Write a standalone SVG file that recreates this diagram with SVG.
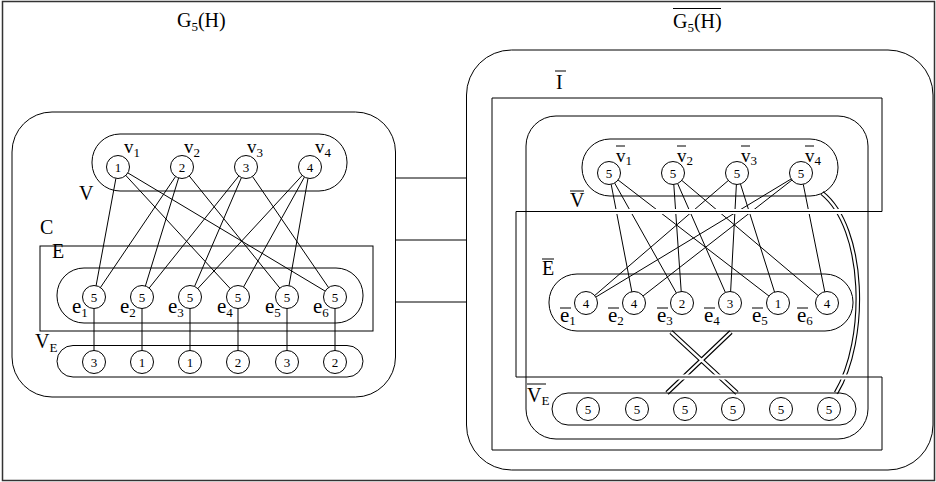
<svg xmlns="http://www.w3.org/2000/svg" width="936" height="482" viewBox="0 0 936 482">
<style>
  text { font-family: "Liberation Serif", "Times New Roman", serif; fill: #000; }
  .lbl { font-size: 20px; }
  .vl { font-size: 19px; }
  .el { font-size: 21px; }
  .sub { font-size: 13px; }
  .num { font-size: 13px; text-anchor: middle; }
  .box { fill: none; stroke: #000; stroke-width: 1; }
  .node circle { fill: #fff; stroke: #000; stroke-width: 1; }
  .edge line { stroke: #000; stroke-width: 1; }
  .dbl-out { fill: none; stroke: #000; stroke-width: 4.6; }
  .dbl-in { fill: none; stroke: #fff; stroke-width: 2.4; }
  .bar { stroke: #000; stroke-width: 1; }
  .halo { stroke: #fff; stroke-width: 5; }
</style>

<!-- page frame -->
<rect x="2.5" y="1.5" width="932" height="479" fill="#fff" stroke="#333" stroke-width="1.5"/>

<!-- titles -->
<g id="title-left">
  <text class="lbl" x="177" y="26.5">G<tspan class="sub" y="30.5">5</tspan><tspan y="26.5">(H)</tspan></text>
</g>
<g id="title-right">
  <text class="lbl" x="673" y="27.5">G<tspan class="sub" y="31.5">5</tspan><tspan y="27.5">(H)</tspan></text>
  <line class="bar" x1="673" y1="8.5" x2="721" y2="8.5"/>
</g>

<!-- connectors -->
<g id="connectors">
  <g class="edge">
    <!-- links between the two graphs -->
    <line x1="395.5" y1="178" x2="466.5" y2="178"/>
    <line x1="395.5" y1="240" x2="466.5" y2="240"/>
    <line x1="395.5" y1="302" x2="466.5" y2="302"/>

    <!-- left: V to E -->
    <line x1="118" y1="167" x2="94" y2="297"/>
    <line x1="118" y1="167" x2="238" y2="297"/>
    <line x1="118" y1="167" x2="335" y2="297"/>
    <line x1="182" y1="167" x2="94" y2="297"/>
    <line x1="182" y1="167" x2="142" y2="297"/>
    <line x1="182" y1="167" x2="287" y2="297"/>
    <line x1="246" y1="167" x2="142" y2="297"/>
    <line x1="246" y1="167" x2="190" y2="297"/>
    <line x1="246" y1="167" x2="335" y2="297"/>
    <line x1="310" y1="167" x2="190" y2="297"/>
    <line x1="310" y1="167" x2="238" y2="297"/>
    <line x1="310" y1="167" x2="287" y2="297"/>
    <!-- left: E to V_E -->
    <line x1="94" y1="297" x2="94" y2="362"/>
    <line x1="142" y1="297" x2="142" y2="362"/>
    <line x1="190" y1="297" x2="190" y2="362"/>
    <line x1="238" y1="297" x2="238" y2="362"/>
    <line x1="287" y1="297" x2="287" y2="362"/>
    <line x1="335" y1="297" x2="335" y2="362"/>

    <!-- right: V-bar to E-bar -->
    <line x1="609" y1="173" x2="634" y2="303"/>
    <line x1="609" y1="173" x2="682" y2="303"/>
    <line x1="609" y1="173" x2="778" y2="303"/>
    <line x1="673" y1="173" x2="682" y2="303"/>
    <line x1="673" y1="173" x2="730" y2="303"/>
    <line x1="673" y1="173" x2="827" y2="303"/>
    <line x1="737" y1="173" x2="586" y2="303"/>
    <line x1="737" y1="173" x2="730" y2="303"/>
    <line x1="737" y1="173" x2="778" y2="303"/>
    <line x1="801" y1="173" x2="586" y2="303"/>
    <line x1="801" y1="173" x2="634" y2="303"/>
    <line x1="801" y1="173" x2="827" y2="303"/>
  </g>

  <!-- double lines (group to group) -->
  <path class="dbl-out" d="M671 332 L737 393 M731 332 L667 393 M822 193 C866 228 868 340 836 393"/>
  <path class="dbl-in" d="M671 332 L737 393 M731 332 L667 393 M822 193 C866 228 868 340 836 393"/>

  <!-- breaks where lines pass under the I-bar outline -->
  <line class="halo" x1="516" y1="211.5" x2="882" y2="211.5"/>
  <line class="halo" x1="516" y1="377" x2="882" y2="377"/>
</g>

<!-- left graph containers -->
<g id="G5H">
  <rect class="box" x="12" y="112" width="383.5" height="285" rx="40"/>
</g>
<g id="C">
  <rect class="box" x="40" y="246" width="333" height="85"/>
  <text class="lbl" x="40" y="234">C</text>
</g>
<g id="V">
  <rect class="box" x="92" y="134" width="255" height="57" rx="28"/>
  <text class="lbl" x="79" y="200">V</text>
</g>
<g id="E">
  <rect class="box" x="57" y="268" width="306" height="55" rx="27"/>
  <text class="lbl" x="52" y="258">E</text>
</g>
<g id="VE">
  <rect class="box" x="57" y="345.5" width="306" height="31.5" rx="16"/>
  <text class="lbl" x="35" y="348">V<tspan class="sub" y="352">E</tspan></text>
</g>

<!-- right graph containers -->
<g id="G5H-bar">
  <rect class="box" x="466.5" y="50" width="466.5" height="420" rx="45"/>
</g>
<g id="I-bar">
  <path class="box" d="M492 98 H882 V211.5 H516 V377 H882 V450 H492 Z"/>
  <text class="lbl" x="556" y="89">I</text>
  <line class="bar" x1="555" y1="71" x2="566" y2="71"/>
</g>
<g id="C-bar">
  <rect class="box" x="526" y="116" width="342" height="323" rx="30"/>
</g>
<g id="V-bar">
  <rect class="box" x="582" y="139" width="256" height="57" rx="28"/>
  <text class="lbl" x="570" y="207">V</text>
  <line class="bar" x1="570" y1="191" x2="584" y2="191"/>
</g>
<g id="E-bar">
  <rect class="box" x="549" y="274" width="304" height="57" rx="28"/>
  <text class="lbl" x="542" y="275">E</text>
  <line class="bar" x1="542" y1="259" x2="554" y2="259"/>
</g>
<g id="VE-bar">
  <rect class="box" x="552" y="393" width="304" height="32" rx="16"/>
  <text class="lbl" x="527" y="402">V<tspan class="sub" y="405">E</tspan></text>
  <line class="bar" x1="527" y1="384" x2="546" y2="384"/>
</g>

<!-- left nodes -->
<g id="v1" class="node"><circle cx="118" cy="167" r="11.5"/><text class="num" x="118" y="171.5">1</text>
  <text class="vl" x="124" y="153">v<tspan class="sub" y="157">1</tspan></text></g>
<g id="v2" class="node"><circle cx="182" cy="167" r="11.5"/><text class="num" x="182" y="171.5">2</text>
  <text class="vl" x="184" y="153">v<tspan class="sub" y="157">2</tspan></text></g>
<g id="v3" class="node"><circle cx="246" cy="167" r="11.5"/><text class="num" x="246" y="171.5">3</text>
  <text class="vl" x="247" y="153">v<tspan class="sub" y="157">3</tspan></text></g>
<g id="v4" class="node"><circle cx="310" cy="167" r="11.5"/><text class="num" x="310" y="171.5">4</text>
  <text class="vl" x="315" y="153">v<tspan class="sub" y="157">4</tspan></text></g>

<g id="e1" class="node"><circle cx="94" cy="297" r="11.5"/><text class="num" x="94" y="301.5">5</text>
  <text class="el" x="72" y="313">e<tspan class="sub" y="317">1</tspan></text></g>
<g id="e2" class="node"><circle cx="142" cy="297" r="11.5"/><text class="num" x="142" y="301.5">5</text>
  <text class="el" x="120" y="313">e<tspan class="sub" y="317">2</tspan></text></g>
<g id="e3" class="node"><circle cx="190" cy="297" r="11.5"/><text class="num" x="190" y="301.5">5</text>
  <text class="el" x="168" y="313">e<tspan class="sub" y="317">3</tspan></text></g>
<g id="e4" class="node"><circle cx="238" cy="297" r="11.5"/><text class="num" x="238" y="301.5">5</text>
  <text class="el" x="217" y="313">e<tspan class="sub" y="317">4</tspan></text></g>
<g id="e5" class="node"><circle cx="287" cy="297" r="11.5"/><text class="num" x="287" y="301.5">5</text>
  <text class="el" x="265" y="313">e<tspan class="sub" y="317">5</tspan></text></g>
<g id="e6" class="node"><circle cx="335" cy="297" r="11.5"/><text class="num" x="335" y="301.5">5</text>
  <text class="el" x="313" y="313">e<tspan class="sub" y="317">6</tspan></text></g>

<g id="ve1" class="node"><circle cx="94" cy="362" r="11.5"/><text class="num" x="94" y="366.5">3</text></g>
<g id="ve2" class="node"><circle cx="142" cy="362" r="11.5"/><text class="num" x="142" y="366.5">1</text></g>
<g id="ve3" class="node"><circle cx="190" cy="362" r="11.5"/><text class="num" x="190" y="366.5">1</text></g>
<g id="ve4" class="node"><circle cx="238" cy="362" r="11.5"/><text class="num" x="238" y="366.5">2</text></g>
<g id="ve5" class="node"><circle cx="287" cy="362" r="11.5"/><text class="num" x="287" y="366.5">3</text></g>
<g id="ve6" class="node"><circle cx="335" cy="362" r="11.5"/><text class="num" x="335" y="366.5">2</text></g>

<!-- right nodes -->
<g id="vb1" class="node"><circle cx="609" cy="173" r="11.5"/><text class="num" x="609" y="177.5">5</text>
  <text class="vl" x="616" y="161.5">v<tspan class="sub" y="165">1</tspan></text>
  <line class="bar" x1="616" y1="146" x2="625" y2="146"/></g>
<g id="vb2" class="node"><circle cx="673" cy="173" r="11.5"/><text class="num" x="673" y="177.5">5</text>
  <text class="vl" x="677" y="161.5">v<tspan class="sub" y="165">2</tspan></text>
  <line class="bar" x1="677" y1="146" x2="686" y2="146"/></g>
<g id="vb3" class="node"><circle cx="737" cy="173" r="11.5"/><text class="num" x="737" y="177.5">5</text>
  <text class="vl" x="741" y="161.5">v<tspan class="sub" y="165">3</tspan></text>
  <line class="bar" x1="741" y1="146" x2="750" y2="146"/></g>
<g id="vb4" class="node"><circle cx="801" cy="173" r="11.5"/><text class="num" x="801" y="177.5">5</text>
  <text class="vl" x="805" y="161.5">v<tspan class="sub" y="165">4</tspan></text>
  <line class="bar" x1="805" y1="146" x2="814" y2="146"/></g>

<g id="eb1" class="node"><circle cx="586" cy="303" r="11.5"/><text class="num" x="586" y="307.5">4</text>
  <text class="el" x="560" y="321.5">e<tspan class="sub" y="325">1</tspan></text>
  <line class="bar" x1="560" y1="308" x2="571" y2="308"/></g>
<g id="eb2" class="node"><circle cx="634" cy="303" r="11.5"/><text class="num" x="634" y="307.5">4</text>
  <text class="el" x="608" y="321.5">e<tspan class="sub" y="325">2</tspan></text>
  <line class="bar" x1="608" y1="308" x2="619" y2="308"/></g>
<g id="eb3" class="node"><circle cx="682" cy="303" r="11.5"/><text class="num" x="682" y="307.5">2</text>
  <text class="el" x="657" y="321.5">e<tspan class="sub" y="325">3</tspan></text>
  <line class="bar" x1="657" y1="308" x2="668" y2="308"/></g>
<g id="eb4" class="node"><circle cx="730" cy="303" r="11.5"/><text class="num" x="730" y="307.5">3</text>
  <text class="el" x="704" y="321.5">e<tspan class="sub" y="325">4</tspan></text>
  <line class="bar" x1="704" y1="308" x2="715" y2="308"/></g>
<g id="eb5" class="node"><circle cx="778" cy="303" r="11.5"/><text class="num" x="778" y="307.5">1</text>
  <text class="el" x="752" y="321.5">e<tspan class="sub" y="325">5</tspan></text>
  <line class="bar" x1="752" y1="308" x2="763" y2="308"/></g>
<g id="eb6" class="node"><circle cx="827" cy="303" r="11.5"/><text class="num" x="827" y="307.5">4</text>
  <text class="el" x="797" y="321.5">e<tspan class="sub" y="325">6</tspan></text>
  <line class="bar" x1="797" y1="308" x2="808" y2="308"/></g>

<g id="veb1" class="node"><circle cx="588" cy="409" r="11.5"/><text class="num" x="588" y="413.5">5</text></g>
<g id="veb2" class="node"><circle cx="637" cy="409" r="11.5"/><text class="num" x="637" y="413.5">5</text></g>
<g id="veb3" class="node"><circle cx="685" cy="409" r="11.5"/><text class="num" x="685" y="413.5">5</text></g>
<g id="veb4" class="node"><circle cx="733" cy="409" r="11.5"/><text class="num" x="733" y="413.5">5</text></g>
<g id="veb5" class="node"><circle cx="781" cy="409" r="11.5"/><text class="num" x="781" y="413.5">5</text></g>
<g id="veb6" class="node"><circle cx="829" cy="409" r="11.5"/><text class="num" x="829" y="413.5">5</text></g>
</svg>
